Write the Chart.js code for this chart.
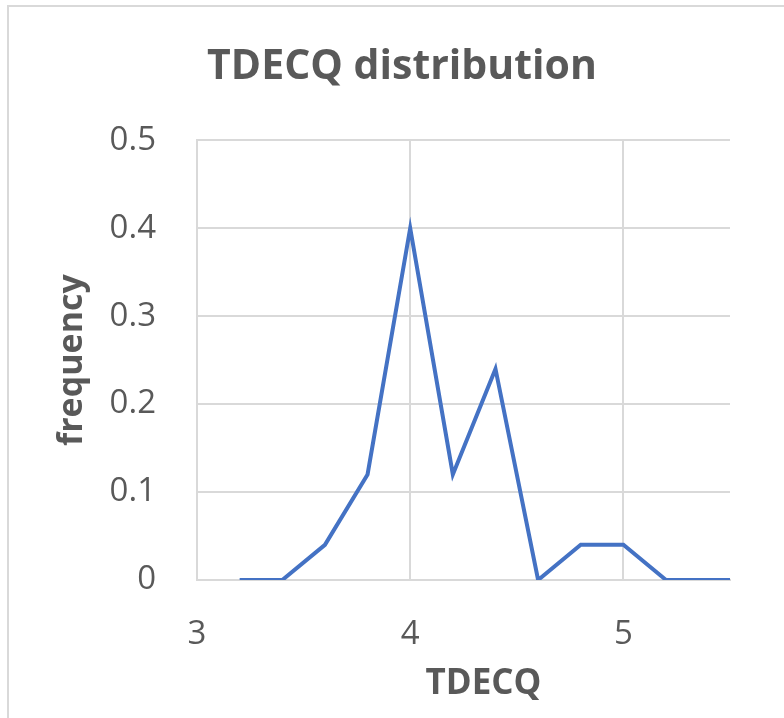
<!DOCTYPE html>
<html lang="en">
<head>
    <meta charset="UTF-8">
    <title>TDECQ distribution</title>
    <script src="https://cdn.jsdelivr.net/npm/chart.js"></script>
    <style>
        html, body { margin: 0; padding: 0; background: #fff; }
        .moldura {
            position: absolute; left: 7px; top: 5px; width: 790px; height: 720px;
            border-top: 2px solid #d9d9d9; border-left: 2px solid #d9d9d9;
        }
        .grafico { position: absolute; left: 0; top: 0; width: 784px; height: 718px; }
    </style>
</head>
<body>
    <div class="moldura"></div>
    <div class="grafico"><canvas id="myChartCanvas" width="784" height="718"></canvas></div>
<script>
    // dados
    const tdecq = [3.2, 3.4, 3.6, 3.8, 4.0, 4.2, 4.4, 4.6, 4.8, 5.0, 5.2, 5.4, 5.6];
    const frequencia = [0, 0, 0.04, 0.12, 0.40, 0.12, 0.24, 0, 0.04, 0.04, 0, 0, 0];
    const xTicks = [3, 4, 5];
    const yTicks = [0, 0.1, 0.2, 0.3, 0.4, 0.5];

    const cinza = '#595959';
    const grade = '#d9d9d9';

    let pontos = [];
    for (let i = 0; i < tdecq.length; i++) {
        pontos.push({ x: tdecq[i], y: frequencia[i] });
    }

    // titulo do eixo x, um pouco deslocado para a direita como no original
    const tituloX = {
        id: 'tituloX',
        afterDraw(chart) {
            const ctx = chart.ctx;
            const area = chart.chartArea;
            ctx.save();
            ctx.fillStyle = cinza;
            ctx.font = 'bold 35px "Open Sans"';
            ctx.textAlign = 'center';
            ctx.textBaseline = 'middle';
            ctx.fillText('TDECQ', (area.left + area.right) / 2 + 20, 684);
            ctx.restore();
        }
    };

    const config = {
        type: 'line',
        data: {
            datasets: [{
                data: pontos,
                borderColor: '#4472C4',
                borderWidth: 4,
                pointRadius: 0,
                tension: 0,
                fill: false
            }]
        },
        options: {
            responsive: false,
            animation: false,
            // padding esquerdo 74 para centralizar o titulo em x=402
            layout: { padding: { left: 74, right: 54, top: 0, bottom: 0 } },
            plugins: {
                legend: { display: false },
                tooltip: { enabled: false },
                title: {
                    display: true,
                    text: 'TDECQ distribution',
                    color: cinza,
                    font: { family: 'Open Sans', size: 41, weight: 'bold' },
                    padding: { top: 43, bottom: 48 }
                }
            },
            scales: {
                x: {
                    type: 'linear',
                    min: 3,
                    max: 5.5,
                    afterBuildTicks: function (scale) {
                        scale.ticks = xTicks.map(v => ({ value: v }));
                    },
                    afterFit: function (scale) { scale.height = 138; },
                    ticks: {
                        color: cinza,
                        font: { family: 'Open Sans', size: 33 },
                        padding: 35,
                        maxRotation: 0
                    },
                    grid: { color: grade, lineWidth: 2, drawTicks: false },
                    border: { color: grade, width: 2 }
                },
                y: {
                    min: 0,
                    max: 0.5,
                    afterBuildTicks: function (scale) {
                        scale.ticks = yTicks.map(v => ({ value: v }));
                    },
                    afterFit: function (scale) { scale.width = 123; },
                    ticks: {
                        color: cinza,
                        font: { family: 'Open Sans', size: 33 },
                        padding: 41
                    },
                    grid: { color: grade, lineWidth: 2, drawTicks: false },
                    border: { color: grade, width: 2 },
                    title: {
                        display: true,
                        text: 'frequency',
                        color: cinza,
                        font: { family: 'Open Sans', size: 34, weight: 'bold' },
                        padding: { top: -22, bottom: 0 }
                    }
                }
            }
        },
        plugins: [tituloX]
    };

    let myChart = new Chart(document.getElementById('myChartCanvas'), config);
</script>
</body>
</html>
